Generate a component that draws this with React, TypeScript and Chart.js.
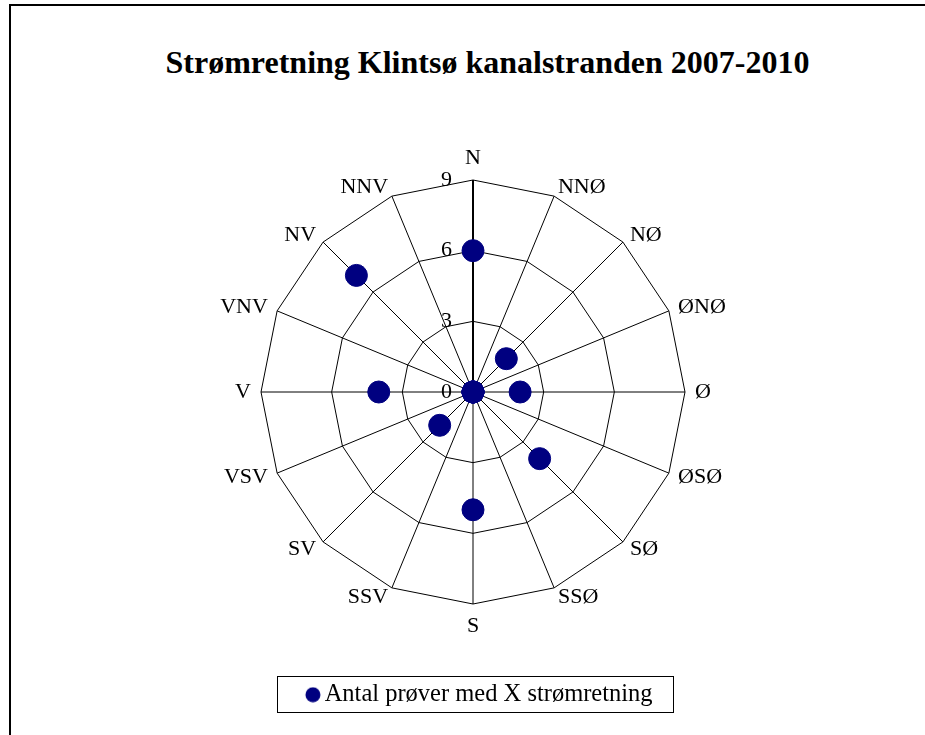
import React, { useEffect, useRef } from 'react';
import { Chart, registerables } from 'chart.js';

Chart.register(...registerables);

const TITLE = 'Strømretning Klintsø kanalstranden 2007-2010';
const DIRECTIONS = ['N', 'NNØ', 'NØ', 'ØNØ', 'Ø', 'ØSØ', 'SØ', 'SSØ', 'S', 'SSV', 'SV', 'VSV', 'V', 'VNV', 'NV', 'NNV'];
const COUNTS = [6, 0, 2, 0, 2, 0, 4, 0, 5, 0, 2, 0, 4, 0, 7, 0];
const SERIES_LABEL = 'Antal prøver med X strømretning';
const SCALE_MIN = 0;
const SCALE_MAX = 9;
const TICK_STEP = 3;

const NAVY = '#000080';
const SERIF = '"Liberation Serif", "Times New Roman", serif';

const labelsPlugin = {
  id: 'dirAndTickLabels',
  afterDraw(chart: any) {
    const scale = chart.scales.r;
    const ctx = chart.ctx;
    ctx.save();
    ctx.fillStyle = '#000';
    ctx.font = `22px ${SERIF}`;
    ctx.textBaseline = 'middle';
    const dist = scale.drawingArea + 10;
    DIRECTIONS.forEach((lab, i) => {
      const p = scale.getPointPosition(i, dist);
      let y = p.y;
      let align: CanvasTextAlign;
      if (Math.abs(p.x - scale.xCenter) < 1) {
        align = 'center';
        y += p.y < scale.yCenter ? -12 : 12;
      } else {
        align = p.x > scale.xCenter ? 'left' : 'right';
      }
      ctx.textAlign = align;
      ctx.fillText(lab, p.x, y);
    });
    ctx.textAlign = 'right';
    scale.ticks.forEach((t: any) => {
      const r = scale.getDistanceFromCenterForValue(t.value);
      ctx.fillText(String(t.label), scale.xCenter - 21, scale.yCenter - r);
    });
    ctx.restore();
  },
};

const legendBorderPlugin = {
  id: 'legendBorder',
  afterDraw(chart: any) {
    const lg = chart.legend;
    if (!lg || !lg.legendHitBoxes || !lg.legendHitBoxes.length) return;
    const hb = lg.legendHitBoxes[0];
    const ctx = chart.ctx;
    const l = Math.round(hb.left - 16) + 0.5;
    const r = Math.round(hb.left + hb.width + 20) + 0.5;
    const t = Math.round(hb.top - 7) + 0.5;
    const b = Math.round(hb.top + hb.height + 5) + 0.5;
    ctx.save();
    ctx.strokeStyle = '#000';
    ctx.lineWidth = 1;
    ctx.strokeRect(l, t, r - l, b - t);
    ctx.restore();
  },
};

export default function App() {
  const ref = useRef<HTMLCanvasElement | null>(null);

  useEffect(() => {
    if (!ref.current) return;
    const marker = document.createElement('canvas');
    marker.width = 40;
    marker.height = 16;
    const mctx = marker.getContext('2d');
    if (mctx) {
      mctx.fillStyle = NAVY;
      mctx.beginPath();
      mctx.arc(30, 8, 7.5, 0, Math.PI * 2);
      mctx.fill();
    }

    const chart = new Chart(ref.current, {
      type: 'radar',
      data: {
        labels: DIRECTIONS,
        datasets: [
          {
            label: SERIES_LABEL,
            data: COUNTS,
            showLine: false,
            fill: false,
            borderWidth: 0,
            backgroundColor: NAVY,
            borderColor: NAVY,
            pointBackgroundColor: NAVY,
            pointBorderColor: NAVY,
            pointBorderWidth: 1,
            pointRadius: 11,
            pointHoverRadius: 11,
          } as any,
        ],
      },
      options: {
        responsive: false,
        devicePixelRatio: 1,
        animation: false,
        events: [],
        layout: { padding: { top: 180, bottom: 18, left: 21, right: 0 } },
        scales: {
          r: {
            min: SCALE_MIN,
            max: SCALE_MAX,
            ticks: { stepSize: TICK_STEP, display: false },
            pointLabels: { display: false },
            grid: { color: '#000', lineWidth: 1 },
            angleLines: {
              color: '#000',
              lineWidth: (c: any) => (c.index === 0 ? 2 : 1),
            },
          },
        },
        plugins: {
          title: { display: false },
          tooltip: { enabled: false },
          legend: {
            display: true,
            position: 'bottom',
            labels: {
              color: '#000',
              font: { size: 24.5, family: SERIF },
              padding: 77,
              usePointStyle: true,
              pointStyle: marker as any,
              boxWidth: 19,
              boxHeight: 10,
            },
          },
        },
      } as any,
      plugins: [labelsPlugin, legendBorderPlugin],
    });
    return () => chart.destroy();
  }, []);

  return (
    <div style={{ position: 'fixed', left: 0, top: 0, width: 925, height: 735, overflow: 'hidden', background: '#fff' }}>
      <div
        style={{
          position: 'absolute',
          left: 9,
          top: 4,
          width: 1000,
          height: 1000,
          borderLeft: '2px solid #000',
          borderTop: '2px solid #000',
        }}
      />
      <div
        style={{
          position: 'absolute',
          left: 0,
          top: 46,
          width: 975,
          textAlign: 'center',
          font: `bold 32px ${SERIF}`,
          lineHeight: '32px',
          whiteSpace: 'nowrap',
          color: '#000',
        }}
      >
        {TITLE}
      </div>
      <canvas
        ref={ref}
        width={925}
        height={735}
        style={{ position: 'absolute', left: 0, top: 0, width: 925, height: 735 }}
      />
    </div>
  );
}
